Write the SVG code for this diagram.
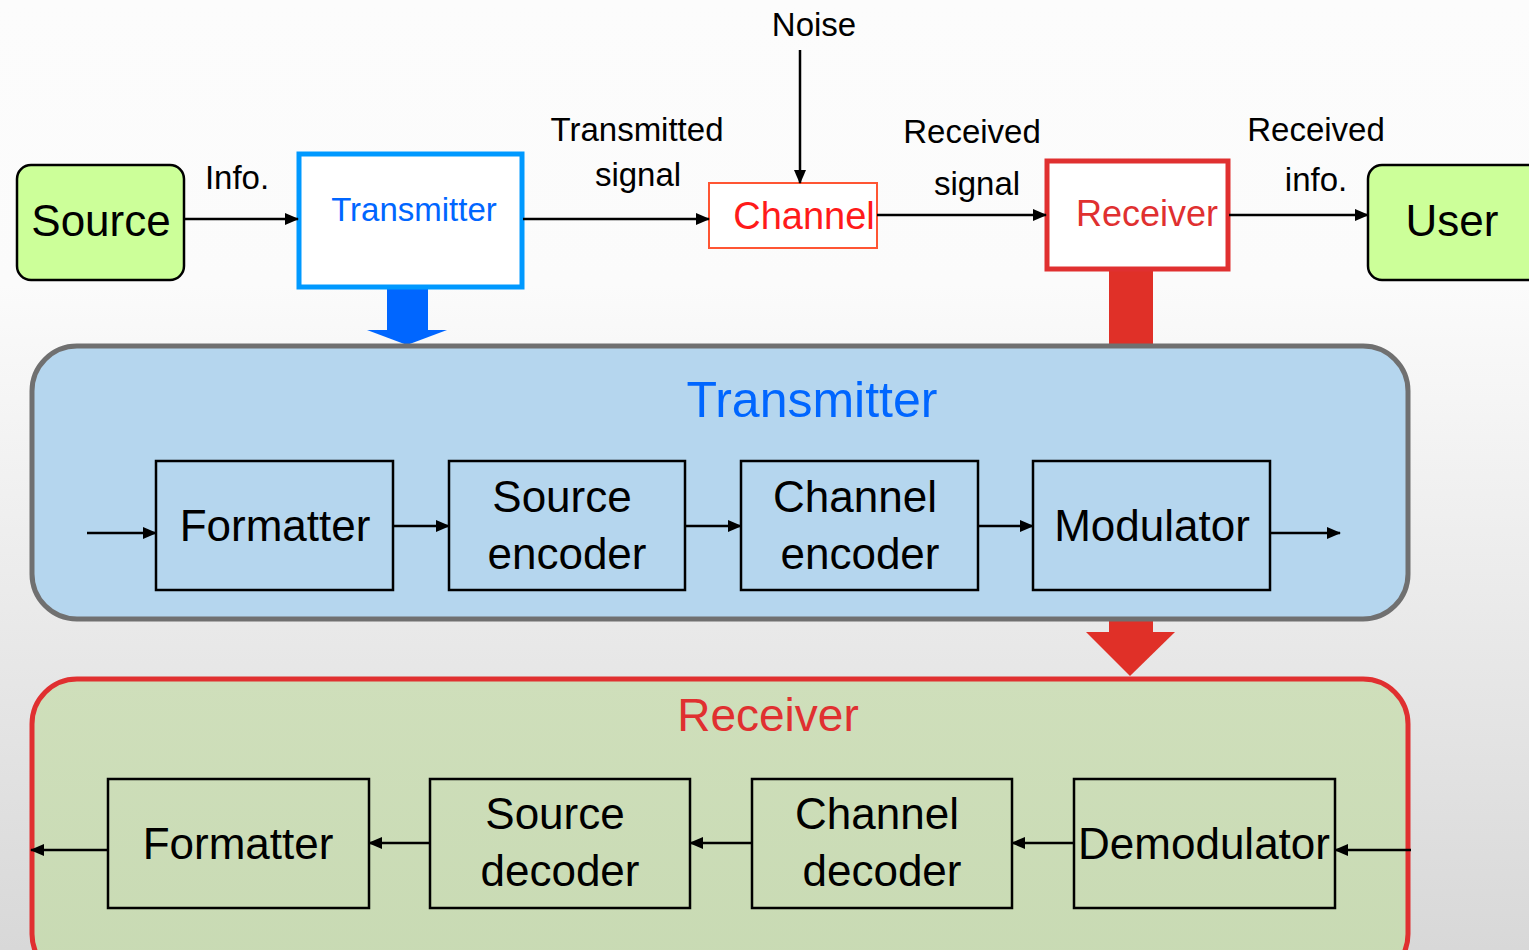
<svg xmlns="http://www.w3.org/2000/svg" width="1529" height="950" viewBox="0 0 1529 950">
<defs>
<linearGradient id="bg" x1="0" y1="0" x2="0" y2="1">
<stop offset="0" stop-color="#fcfcfc"/>
<stop offset="0.3" stop-color="#fbfbfb"/>
<stop offset="1" stop-color="#d8d8d8"/>
</linearGradient>
<linearGradient id="gr" x1="0" y1="0" x2="0" y2="1">
<stop offset="0" stop-color="#cfdfbb"/>
<stop offset="1" stop-color="#c8dab3"/>
</linearGradient>
<marker id="ah" markerWidth="14" markerHeight="12" refX="13" refY="6" orient="auto" markerUnits="userSpaceOnUse">
<path d="M0,0 L14,6 L0,12 Z" fill="#000"/>
</marker>
</defs>
<style>
text{font-family:"Liberation Sans","DejaVu Sans",sans-serif;text-anchor:middle}
.lbl{font-size:33px;fill:#000}
.blk{font-size:44px;fill:#000}
.ttl{font-size:50px}
.c{stroke:#000;stroke-width:2.5;fill:none;marker-end:url(#ah)}
.inner{fill:none;stroke:#000;stroke-width:2.5}
.term{fill:#ccff99;stroke:#000;stroke-width:2.5}
</style>
<rect x="0" y="0" width="1529" height="950" fill="url(#bg)"/>

<g id="receiver-down-arrow">
<rect x="1109" y="270" width="44" height="363" fill="#e03028"/>
<polygon points="1086,632 1175,632 1130,676" fill="#e03028"/>
</g>

<g id="transmitter-down-arrow">
<rect x="387" y="288" width="41" height="43" fill="#0066ff"/>
<polygon points="367,330 447,330 407,345" fill="#0066ff"/>
</g>

<g id="source">
<rect class="term" x="17" y="165" width="167" height="115" rx="14"/>
<text class="blk" x="101" y="236">Source</text>
</g>
<g id="user">
<rect class="term" x="1368" y="165" width="175" height="115" rx="14"/>
<text class="blk" x="1452" y="236">User</text>
</g>
<g id="transmitter">
<rect x="299" y="154" width="223" height="133" fill="#fff" stroke="#0099ff" stroke-width="5"/>
<text x="414" y="221" font-size="33" fill="#0066ff">Transmitter</text>
</g>
<g id="channel">
<rect x="709" y="183" width="168" height="65" fill="#fff" stroke="#ff5533" stroke-width="2"/>
<text x="804" y="229" font-size="38" fill="#ff1a1a">Channel</text>
</g>
<g id="receiver">
<rect x="1047" y="161" width="181" height="108" fill="#fff" stroke="#e03030" stroke-width="5"/>
<text x="1147" y="226" font-size="36" fill="#e03030">Receiver</text>
</g>

<g id="labels">
<text class="lbl" x="237" y="189">Info.</text>
<text class="lbl" x="637" y="141">Transmitted</text>
<text class="lbl" x="638" y="186">signal</text>
<text class="lbl" x="814" y="36">Noise</text>
<text class="lbl" x="972" y="143">Received</text>
<text class="lbl" x="977" y="195">signal</text>
<text class="lbl" x="1316" y="141">Received</text>
<text class="lbl" x="1316" y="191">info.</text>
</g>

<g id="tx-panel">
<rect x="32" y="346" width="1376" height="273" rx="45" fill="#b5d6ee" stroke="#707070" stroke-width="5"/>
<text class="ttl" x="812" y="417" fill="#0066ff">Transmitter</text>
</g>
<g id="formatter-tx">
<rect class="inner" x="156" y="461" width="237" height="129"/>
<text class="blk" x="275" y="541">Formatter</text>
</g>
<g id="source-encoder">
<rect class="inner" x="449" y="461" width="236" height="129"/>
<text class="blk" x="562" y="512">Source</text>
<text class="blk" x="567" y="569">encoder</text>
</g>
<g id="channel-encoder">
<rect class="inner" x="741" y="461" width="237" height="129"/>
<text class="blk" x="855" y="512">Channel</text>
<text class="blk" x="860" y="569">encoder</text>
</g>
<g id="modulator">
<rect class="inner" x="1033" y="461" width="237" height="129"/>
<text class="blk" x="1152" y="541">Modulator</text>
</g>

<g id="rx-panel">
<rect x="32" y="679" width="1376" height="300" rx="45" fill="url(#gr)" stroke="#e03030" stroke-width="5"/>
<text x="768" y="731" font-size="46" fill="#e03030">Receiver</text>
</g>
<g id="formatter-rx">
<rect class="inner" x="108" y="779" width="261" height="129"/>
<text class="blk" x="238" y="859">Formatter</text>
</g>
<g id="source-decoder">
<rect class="inner" x="430" y="779" width="260" height="129"/>
<text class="blk" x="555" y="829">Source</text>
<text class="blk" x="560" y="886">decoder</text>
</g>
<g id="channel-decoder">
<rect class="inner" x="752" y="779" width="260" height="129"/>
<text class="blk" x="877" y="829">Channel</text>
<text class="blk" x="882" y="886">decoder</text>
</g>
<g id="demodulator">
<rect class="inner" x="1074" y="779" width="261" height="129"/>
<text class="blk" x="1204" y="859">Demodulator</text>
</g>

<g id="connectors">
<line class="c" x1="184" y1="219" x2="298" y2="219"/>
<line class="c" x1="523" y1="219" x2="709" y2="219"/>
<line class="c" x1="800" y1="50" x2="800" y2="183"/>
<line class="c" x1="877" y1="215" x2="1046" y2="215"/>
<line class="c" x1="1229" y1="215" x2="1368" y2="215"/>
<line class="c" x1="87" y1="533" x2="156" y2="533"/>
<line class="c" x1="393" y1="526" x2="449" y2="526"/>
<line class="c" x1="685" y1="526" x2="741" y2="526"/>
<line class="c" x1="978" y1="526" x2="1033" y2="526"/>
<line class="c" x1="1270" y1="533" x2="1340" y2="533"/>
<line class="c" x1="1411" y1="850" x2="1335" y2="850"/>
<line class="c" x1="1074" y1="843" x2="1012" y2="843"/>
<line class="c" x1="752" y1="843" x2="690" y2="843"/>
<line class="c" x1="430" y1="843" x2="369" y2="843"/>
<line class="c" x1="108" y1="850" x2="31" y2="850"/>
</g>
</svg>
